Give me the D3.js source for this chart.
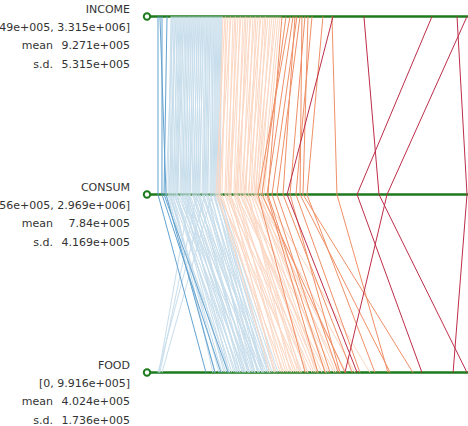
<!DOCTYPE html>
<html><head><meta charset="utf-8">
<script src="https://cdn.jsdelivr.net/npm/d3@7/dist/d3.min.js"></script>
<style>html,body{margin:0;padding:0;background:#fff;overflow:hidden}</style>
</head><body><svg id="c" width="468" height="426"></svg>
<script>
// Values in units of 1e5
const UNIT = 1e5;
const variables = ["INCOME", "CONSUM", "FOOD"];
const rangeLabels = ["[1.549e+005, 3.315e+006]", "[1.56e+005, 2.969e+006]", "[0, 9.916e+005]"];
const meanLabels = ["9.271e+005", "7.84e+005", "4.024e+005"];
const sdLabels = ["5.315e+005", "4.169e+005", "1.736e+005"];
const domains = [[1.549, 33.15], [1.56, 29.69], [0, 9.916]];

// each row: [INCOME, CONSUM, FOOD]
const classLightBlue = [
 [2.88,2.47,1.83],[2.98,2.65,2.05],[3.08,2.29,2.31],[3.19,2.74,1.96],[3.29,2.83,2.50],
 [3.39,2.56,2.18],[3.49,3.01,2.63],[3.60,2.92,1.76],[3.70,3.10,2.37],[3.80,3.19,2.79],
 [3.90,3.28,2.25],[4.00,3.38,2.95],[4.11,3.56,2.57],[4.21,3.28,2.12],[4.31,3.65,3.11],
 [4.41,3.84,2.73],[4.52,3.74,2.44],[4.62,3.93,2.89],[4.72,4.11,2.28],[4.82,4.02,3.27],
 [4.92,4.29,2.82],[5.03,4.20,2.54],[5.13,4.47,3.02],[5.23,4.38,2.70],[5.33,4.66,3.34],
 [5.44,4.47,0.03],[5.54,4.84,2.95],[5.64,4.75,2.63],[5.74,5.02,3.21],[5.84,4.93,3.47],
 [5.95,5.20,2.89],[6.05,5.11,0.06],[6.15,5.38,3.11],[6.25,5.29,2.76],[6.36,5.57,3.40],
 [6.46,5.75,3.05],[6.56,5.66,3.53],[6.66,5.84,0.00],[6.77,5.93,3.21],[6.87,6.11,2.92],
 [6.97,6.02,3.59],[7.07,6.29,3.34],[7.17,6.48,0.13],[7.28,6.38,3.11],[7.38,6.57,3.66],
 [7.48,6.66,3.40],[7.58,6.75,3.21],[7.69,6.84,3.75],[7.79,6.93,3.53],[7.89,7.02,3.34],
 [7.99,7.11,3.85],[8.09,7.20,3.59]
];
const classPeach = [
 [8.19,7.02,3.59],[8.40,6.84,4.04],[8.50,7.38,3.79],[8.70,7.20,4.30],[8.91,7.66,3.92],
 [9.01,7.11,4.56],[9.22,7.93,4.11],[9.42,7.75,4.81],[9.52,8.20,3.72],[9.73,8.02,4.43],
 [9.93,8.47,4.17],[10.03,8.11,4.94],[10.24,8.75,3.98],[10.44,8.57,4.62],[10.55,9.02,5.13],
 [10.75,8.84,4.36],[10.96,9.29,4.75],[11.06,8.66,5.39],[11.26,9.57,4.49],[11.47,9.11,5.01],
 [11.57,9.84,4.24],[11.78,9.48,5.26],[11.98,10.02,4.81],[12.08,9.38,5.65],[12.29,10.29,5.07],
 [12.49,9.75,4.56],[12.59,10.48,5.46],[12.80,10.11,5.84],[13.00,10.66,5.13],[13.21,10.39,6.03],
 [13.41,10.85,5.39],[13.62,10.57,6.32],[13.82,11.03,5.71],[14.03,11.21,6.80]
];
const classOrange = [
 [16.27,14.49,7.45],[16.89,14.76,8.18],[18.42,15.12,6.96],[19.34,17.85,7.38],
 [15.05,10.66,4.72],[15.36,11.48,5.13],[15.76,11.94,5.52],[16.07,12.39,5.78],
 [14.64,11.03,6.00],[15.56,12.94,6.23],[16.58,13.58,5.84],[14.23,11.57,5.36],
 [17.30,14.12,6.48]
];
const classDarkBlue = [
 [1.549,1.56,1.54],[1.96,1.92,2.02],[1.75,2.29,1.83],[2.47,2.11,2.25]
];
const classCrimson = [
 [19.45,13.31,6.39],[22.61,21.68,9.916],[29.57,19.68,8.47],[32.13,29.69,9.47],[33.15,22.41,6.00]
];

const series = [
  {rows: classLightBlue, color: "#c8deec"},
  {rows: classPeach, color: "#fcd8c4"},
  {rows: classOrange, color: "#ef8f66"},
  {rows: classDarkBlue, color: "#64a3d0"},
  {rows: classCrimson, color: "#bd2d4a"}
];

const svg = d3.select("#c");
const yPos = d3.scalePoint().domain(variables).range([16.5, 372.5]);
const xScales = domains.map(d => d3.scaleLinear().domain(d).range([158, 467]));
const green = "#1d7a1d";

// axes
variables.forEach((v, i) => {
  const y = yPos(v);
  svg.append("line").attr("x1", 150).attr("x2", 468).attr("y1", y).attr("y2", y)
    .attr("stroke", green).attr("stroke-width", 2.6);
});

const line = d3.line().x(d => d[0]).y(d => d[1]);
series.forEach(s => {
  svg.append("g").selectAll("path").data(s.rows).join("path")
    .attr("d", r => line(r.map((val, i) => [xScales[i](val), yPos(variables[i])])))
    .attr("fill", "none").attr("stroke", s.color).attr("stroke-width", 1);
});

variables.forEach((v, i) => {
  const y = yPos(v);
  svg.append("circle").attr("cx", 147).attr("cy", y).attr("r", 3.2)
    .attr("fill", "#fff").attr("stroke", green).attr("stroke-width", 2);
  const g = svg.append("g").attr("font-family", "DejaVu Sans").attr("font-size", 11).attr("fill", "#333");
  g.append("text").attr("x", 130).attr("y", y - 4).attr("text-anchor", "end").text(v);
  g.append("text").attr("x", 130).attr("y", y + 14).attr("text-anchor", "end").text(rangeLabels[i]);
  g.append("text").attr("x", 53).attr("y", y + 32.5).attr("text-anchor", "end").text("mean");
  g.append("text").attr("x", 130).attr("y", y + 32.5).attr("text-anchor", "end").text(meanLabels[i]);
  g.append("text").attr("x", 53).attr("y", y + 51).attr("text-anchor", "end").text("s.d.");
  g.append("text").attr("x", 130).attr("y", y + 51).attr("text-anchor", "end").text(sdLabels[i]);
});
</script></body></html>
